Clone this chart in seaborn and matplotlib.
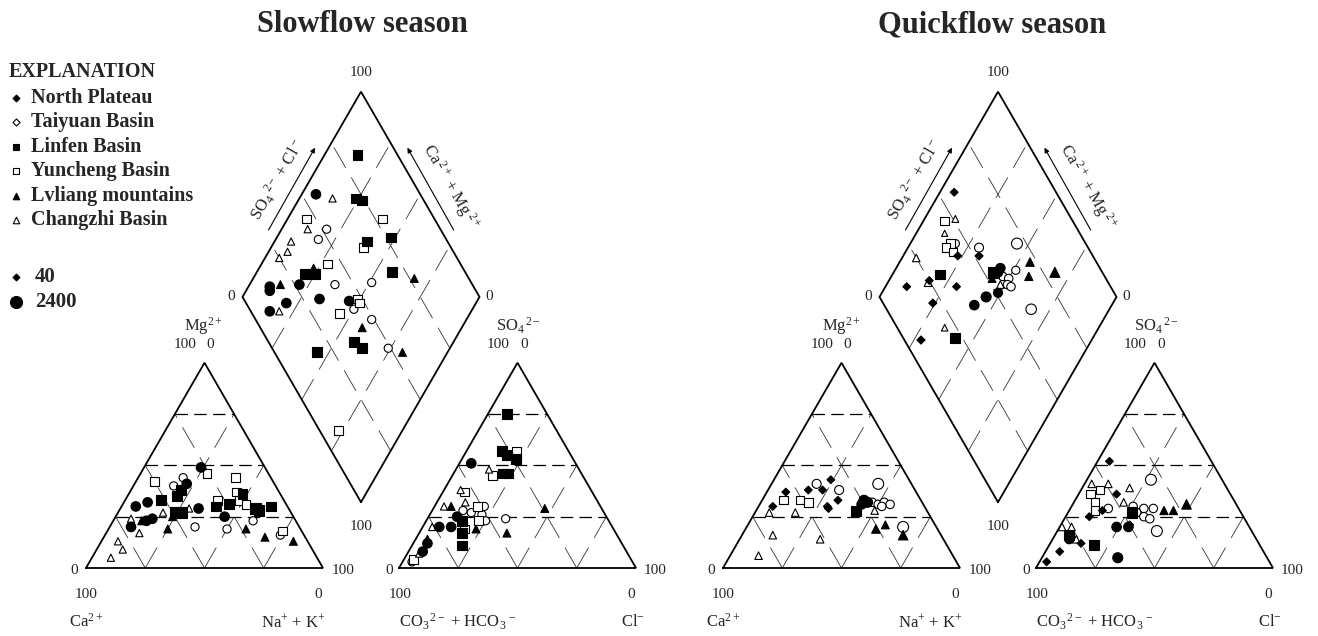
import numpy as np
import pandas as pd
import matplotlib
matplotlib.use("Agg")
import matplotlib.pyplot as plt
import seaborn as sns

# ---------------- data (percent) ----------------
# Slowflow season -- cation triangle (Mg2+, Na+ + K+), TDS estimate from marker size
SLOW_CAT_GROUP = ['NP','YC','YC','TY','TY','NP','LF','LF','YC','NP','NP','LF','CZ','LF','LF','CZ',
                  'NP','CZ','LL','NP','NP','NP','CZ','LL','LL','TY','YC','LF','LF','YC','LF','YC',
                  'YC','LF','LF','LF','NP','TY','TY','LL','LL','YC','TY','LL','CZ','CZ','CZ']
SLOW_CAT_MG = [49,46,42,44,40,41,38,35,44,30,32,33,27,27,27,29,29,24,23,23,24,20,17,19,25,20,33,30,
               31,37,36,33,31,29,28,30,25,23,19,19,15,18,16,13,13,9,5]
SLOW_CAT_NAK = [24,28,8,19,17,22,21,21,41,6,10,15,19,24,27,29,33,7,12,14,16,9,14,25,24,36,39,40,
                45,45,48,48,52,57,59,63,46,59,50,58,68,74,74,81,7,11,8]
SLOW_CAT_TDS = [1400,1100,1100,900,900,1400,1500,1500,1100,1400,1400,1500,600,1700,1700,600,1400,
                600,800,1400,1400,1400,600,800,800,900,1100,1500,1500,1100,1500,1100,1100,1700,
                1700,1500,1400,900,900,800,800,1100,900,800,600,600,600]

# Slowflow season -- anion triangle (SO4 2-, Cl-)
SLOW_AN_GROUP = ['LF','LF','LF','YC','LF','NP','CZ','YC','LF','LF','CZ','YC','CZ','LL','CZ','TY',
                 'YC','TY','TY','TY','LL','TY','NP','LF','YC','YC','LF','LL','TY','LL','LF','CZ',
                 'NP','NP','NP','LL','NP','CZ','YC','TY']
SLOW_AN_SO4 = [75,57,55,57,53,51,48,45,46,46,38,37,30,30,32,28,30,30,27,26,29,24,25,23,19,23,17,
               19,23,17,11,20,20,20,12,14,8,7,4,3]
SLOW_AN_CL = [8,15,18,21,23,5,14,17,21,23,7,9,4,7,12,13,18,21,17,22,47,33,12,15,18,22,18,23,25,
              37,21,4,7,12,6,5,6,5,4,4]
SLOW_AN_TDS = [1500,1500,1500,1100,1500,1400,600,1100,1500,1500,600,1100,600,800,600,900,1100,
               900,900,900,800,900,1400,1500,1100,1100,1500,800,900,800,1500,600,1400,1400,1400,
               800,1400,600,1100,900]

# Slowflow season -- diamond (SO4+Cl, Ca+Mg)
SLOW_DI_GROUP = ['LF','NP','CZ','LF','LF','YC','CZ','TY','TY','YC','LF','LF','YC','CZ','CZ','CZ',
                 'LL','LF','LF','YC','TY','TY','LF','LL','NP','NP','LL','NP','NP','NP','CZ','NP',
                 'NP','YC','YC','TY','YC','TY','LL','LF','LF','LF','TY','LL','YC']
SLOW_DI_SCL = [83,56,62,72,74,46,44,46,52,78,77,66,63,34,30,25,37,32,36,44,42,58,69,77,14,13,19,
               27,32,17,12,8,44,48,48,44,37,49,43,36,38,18,49,54,8]
SLOW_DI_CAMG = [86,94,86,76,73,92,89,82,81,60,52,61,61,93,92,94,77,79,75,72,64,49,43,32,91,90,87,
                79,67,80,81,85,54,51,49,50,55,40,42,42,37,55,26,19,27]
SLOW_DI_TDS = [1500,1400,600,1500,1500,1100,600,900,900,1100,1500,1500,1100,600,600,600,800,
               1700,1700,1100,900,900,1500,800,1400,1400,800,1400,1400,1400,600,1400,1400,1100,
               1100,900,1100,900,800,1500,1500,1500,900,800,1100]

# Quickflow season -- cation triangle
QUICK_CAT_GROUP = ['NP','TY','TY','NP','NP','NP','YC','YC','YC','NP','NP','NP','NP','CZ','CZ','TY',
                   'NP','NP','NP','LF','TY','TY','TY','TY','TY','CZ','LL','LL','LL','TY','CZ','CZ','CZ']
QUICK_CAT_MG = [43,41,38,38,38,37,33,33,32,33,30,29,30,27,27,41,33,32,31,28,32,31,32,31,30,28,19,
                21,16,20,16,14,6]
QUICK_CAT_NAK = [24,19,30,17,23,8,9,16,20,32,29,30,6,6,17,45,43,45,43,42,47,50,52,55,52,50,55,58,
                 68,66,13,34,12]
QUICK_CAT_TDS = [150,1200,1200,150,150,150,1000,1000,1000,150,150,150,150,700,700,2000,1600,1600,
                 1400,1600,1000,1000,1000,1000,1000,700,1000,800,1400,2000,700,700,700]

# Quickflow season -- anion triangle
QUICK_AN_GROUP = ['NP','CZ','CZ','YC','YC','YC','YC','TY','NP','CZ','NP','TY','CZ','TY','TY','TY',
                  'LL','LL','LL','LF','TY','TY','TY','NP','NP','NP','NP','TY','CZ','CZ','LF','NP',
                  'CZ','NP','LF','NP','NP','NP']
QUICK_AN_SO4 = [52,41,41,36,38,32,28,29,36,39,28,43,32,30,29,29,28,28,31,27,27,25,24,21,20,20,25,
                18,20,20,16,14,14,12,11,8,3,5]
QUICK_AN_CL = [5,3,10,5,8,9,11,16,16,20,14,27,21,26,31,35,40,44,48,27,29,33,36,29,29,24,10,42,1,5,
               6,7,10,13,19,6,3,32]
QUICK_AN_TDS = [150,700,700,1000,1000,1000,1000,1000,150,700,150,2000,700,1000,1000,1000,900,900,
                1400,1800,1000,1000,1000,150,1400,1400,150,2000,700,700,1600,1200,700,150,1600,
                150,150,1600]

# Quickflow season -- diamond
QUICK_DI_GROUP = ['NP','YC','CZ','CZ','YC','TY','YC','YC','NP','CZ','TY','NP','TY','LL','LL','LL',
                  'NP','LF','NP','LL','TY','TY','TY','TY','TY','CZ','NP','NP','NP','NP','NP','LF',
                  'NP','CZ','NP','CZ','LF','NP','TY']
QUICK_DI_SCL = [57,46,51,43,43,45,40,42,43,25,54,52,71,72,68,80,58,54,56,52,57,59,64,57,58,54,51,
                45,38,35,14,31,25,24,21,20,22,7,61]
QUICK_DI_CAMG = [94,91,87,88,83,81,84,80,77,94,70,68,55,45,42,32,56,58,56,57,53,50,49,49,47,52,51,
                 55,58,70,91,80,83,83,76,65,58,72,33]
QUICK_DI_TDS = [150,1000,500,300,1000,900,1000,1000,150,700,1200,200,2000,1000,900,1600,1400,1800,
                1400,800,1000,1000,900,1000,1000,700,1200,1600,1400,150,150,1400,150,800,200,400,
                1600,200,1800]

GROUP_LABELS = {"NP": "North Plateau", "TY": "Taiyuan Basin", "LF": "Linfen Basin",
                "YC": "Yuncheng Basin", "LL": "Lvliang mountains", "CZ": "Changzhi Basin"}
TDS_LEGEND = [40, 2400]
TITLES = {"slow": "Slowflow season", "quick": "Quickflow season"}

# ---------------- styling ----------------
sns.set_theme(style="white")
plt.rcParams["font.family"] = ["Liberation Serif", "DejaVu Serif"]
plt.rcParams["mathtext.fontset"] = "custom"
plt.rcParams["mathtext.rm"] = "Liberation Serif"
plt.rcParams["mathtext.it"] = "Liberation Serif:italic"
plt.rcParams["mathtext.bf"] = "Liberation Serif:bold"
plt.rcParams["mathtext.default"] = "regular"
plt.rcParams["lines.scale_dashes"] = False

W, HF = 1318, 636
S = 237.0                      # triangle side (px)
H = S * np.sqrt(3) / 2         # triangle height
GAP = 76.0                     # gap between the two triangles
BASE_Y = 568.0
ORIGINS = {"slow": 86.0, "quick": 723.0}


def cation_xy(ox, mg, nak):
    mg = np.asarray(mg, float) / 100
    nak = np.asarray(nak, float) / 100
    return ox + S * (nak + mg / 2), BASE_Y - H * mg


def anion_xy(ox, so4, cl):
    x0 = ox + S + GAP
    so4 = np.asarray(so4, float) / 100
    cl = np.asarray(cl, float) / 100
    return x0 + S * (cl + so4 / 2), BASE_Y - H * so4


def diamond_xy(ox, scl, camg):
    bx = ox + S + GAP / 2
    by = BASE_Y - GAP * np.sqrt(3) / 2
    s = np.asarray(scl, float) / 100
    c = np.asarray(camg, float) / 100
    return bx + (S / 2) * (s - c), by - H * (s + c)


frames = []
spec = [
    ("slow", "cat", SLOW_CAT_GROUP, SLOW_CAT_MG, SLOW_CAT_NAK, SLOW_CAT_TDS),
    ("slow", "an", SLOW_AN_GROUP, SLOW_AN_SO4, SLOW_AN_CL, SLOW_AN_TDS),
    ("slow", "di", SLOW_DI_GROUP, SLOW_DI_SCL, SLOW_DI_CAMG, SLOW_DI_TDS),
    ("quick", "cat", QUICK_CAT_GROUP, QUICK_CAT_MG, QUICK_CAT_NAK, QUICK_CAT_TDS),
    ("quick", "an", QUICK_AN_GROUP, QUICK_AN_SO4, QUICK_AN_CL, QUICK_AN_TDS),
    ("quick", "di", QUICK_DI_GROUP, QUICK_DI_SCL, QUICK_DI_CAMG, QUICK_DI_TDS),
]
for season, panel, g, a, b, t in spec:
    n = min(len(g), len(a), len(b), len(t))
    df = pd.DataFrame({"group": g[:n], "a": a[:n], "b": b[:n], "tds": t[:n]})
    ox = ORIGINS[season]
    fn = {"cat": cation_xy, "an": anion_xy, "di": diamond_xy}[panel]
    x, y = fn(ox, df["a"], df["b"])
    df["x"] = x
    df["y"] = y
    df["season"] = season
    df["panel"] = panel
    frames.append(df)
pts = pd.concat(frames, ignore_index=True)

STYLE = {"NP": ("o", True), "TY": ("o", False), "LF": ("s", True),
         "YC": ("s", False), "LL": ("^", True), "CZ": ("^", False)}

fig = plt.figure(figsize=(W / 100, HF / 100), dpi=100)
ax = fig.add_axes([0, 0, 1, 1])
ax.set_xlim(0, W)
ax.set_ylim(HF, 0)
ax.axis("off")

OUT = dict(color="black", lw=1.3, solid_joinstyle="miter", zorder=3)
HDASH = dict(color="black", lw=0.9, dashes=(9, 4.5), zorder=2)
SDASH = dict(color="#333333", lw=0.6, dashes=(17, 8), zorder=2)
TXT = dict(fontsize=11, ha="center", va="center")
LBL = dict(fontsize=12, va="center")

for season, ox in ORIGINS.items():
    ax0 = ox + S + GAP
    # triangle outlines
    for x0 in (ox, ax0):
        ax.plot([x0, x0 + S, x0 + S / 2, x0], [BASE_Y, BASE_Y, BASE_Y - H, BASE_Y], **OUT)
    # diamond outline
    dx, dy = diamond_xy(ox, [0, 100, 100, 0, 0], [0, 0, 100, 100, 0])
    ax.plot(dx, dy, **OUT)
    # grids
    for t in (25, 50, 75):
        for fn in (cation_xy, anion_xy):
            x, y = fn(ox, [t, t], [0, 100 - t])
            ax.plot(x, y, **HDASH)
            x, y = fn(ox, [0, 100 - t], [t, t])
            ax.plot(x, y, **SDASH)
            x, y = fn(ox, [0, 100 - t], [100 - t, 0])
            ax.plot(x, y, **SDASH)
        x, y = diamond_xy(ox, [t, t], [0, 100])
        ax.plot(x, y, **SDASH)
        x, y = diamond_xy(ox, [0, 100], [t, t])
        ax.plot(x, y, **SDASH)

    # cation labels
    apx = ox + S / 2
    ax.text(ox - 12, 570, "0", **TXT)
    ax.text(ox + S + 20, 570, "100", **TXT)
    ax.text(ox, 595, "100", **TXT)
    ax.text(ox + S - 5, 595, "0", **TXT)
    ax.text(ox - 17, 622, "Ca$^{2+}$", ha="left", **LBL)
    ax.text(ox + S + 2, 622, "Na$^{+}$ + K$^{+}$", ha="right", **LBL)
    ax.text(apx - 20, 326, "Mg$^{2+}$", ha="left", **LBL)
    ax.text(apx - 19.5, 344, "100", **TXT)
    ax.text(apx + 6, 344, "0", **TXT)
    # anion labels
    apx = ax0 + S / 2
    ax.text(ax0 - 10, 570, "0", **TXT)
    ax.text(ax0 + S + 19, 570, "100", **TXT)
    ax.text(ax0 + 1, 595, "100", **TXT)
    ax.text(ax0 + S - 5, 595, "0", **TXT)
    ax.text(ax0, 622, "CO$_3$$^{\\,2-}$ + HCO$_3$$^{\\,-}$", ha="left", **LBL)
    ax.text(ax0 + S + 9, 622, "Cl$^{-}$", ha="right", **LBL)
    ax.text(apx - 21, 326, "SO$_4$$^{\\,2-}$", ha="left", **LBL)
    ax.text(apx - 19, 344, "100", **TXT)
    ax.text(apx + 7, 344, "0", **TXT)
    # diamond labels
    bx = ox + S + GAP / 2
    ax.text(bx, 72, "100", **TXT)
    ax.text(bx - S / 2 - 11, 297, "0", **TXT)
    ax.text(bx + S / 2 + 10, 297, "0", **TXT)
    ax.text(bx, 527, "100", **TXT)
    arr = dict(arrowstyle="-|>", lw=0.8, color="black", mutation_scale=7, shrinkA=0, shrinkB=0)
    ax.annotate("", xy=(ox + 229, 147.7), xytext=(ox + 182.5, 230), arrowprops=arr)
    ax.annotate("", xy=(ox + 321.4, 147.7), xytext=(ox + 367.7, 230), arrowprops=arr)
    ax.text(ox + 191.5, 180, "SO$_4$$^{\\;2-}$ + Cl$^{\\,-}$", rotation=60, fontsize=12,
            ha="center", va="center", rotation_mode="anchor")
    ax.text(ox + 364.5, 187, "Ca$^{\\;2+}$ + Mg$^{\\;2+}$", rotation=-60, fontsize=12,
            ha="center", va="center", rotation_mode="anchor")
    # title
    ax.text(bx + (1 if season == "slow" else -6), 25, TITLES[season], fontsize=22,
            fontweight="bold", ha="center", va="center")

# data points: open markers first, filled on top
for grp in ["TY", "YC", "CZ", "NP", "LF", "LL"]:
    marker, filled = STYLE[grp]
    sub = pts[pts["group"] == grp]
    parts = [(sub, marker)]
    if marker == "o":
        parts = [(sub[sub["tds"] < 400], "D"), (sub[sub["tds"] >= 400], "o")]
    for part, mk in parts:
        if part.empty:
            continue
        sns.scatterplot(data=part, x="x", y="y", size="tds", sizes=(13, 72),
                        size_norm=(40, 2400), marker=mk,
                        color="black" if filled else "white", edgecolor="black",
                        linewidth=0.8, legend=False, ax=ax, zorder=5)

# explanation / legend
ax.text(9, 72, "EXPLANATION", fontsize=14.5, fontweight="bold", ha="left", va="center")
LEG_MK = {"NP": ("D", True, 12), "TY": ("D", False, 13), "LF": ("s", True, 18),
          "YC": ("s", False, 18), "LL": ("^", True, 22), "CZ": ("^", False, 22)}
for i, grp in enumerate(["NP", "TY", "LF", "YC", "LL", "CZ"]):
    yy = 98 + i * 24.4
    mk, filled, s = LEG_MK[grp]
    ax.scatter([16], [yy], marker=mk, s=s, c="black" if filled else "white",
               edgecolors="black", linewidths=0.8, zorder=5)
    ax.text(31, yy, GROUP_LABELS[grp], fontsize=14.5, fontweight="bold", ha="left", va="center")
for tds, yy, mk, s in zip(TDS_LEGEND, (277, 302), ("D", "o"), (12, 75)):
    ax.scatter([16], [yy], marker=mk, s=s, c="black", edgecolors="black", linewidths=0.8, zorder=5)
    ax.text(35, yy, str(tds), fontsize=15, fontweight="bold", ha="left", va="center")

fig.savefig("out.png", dpi=100)
